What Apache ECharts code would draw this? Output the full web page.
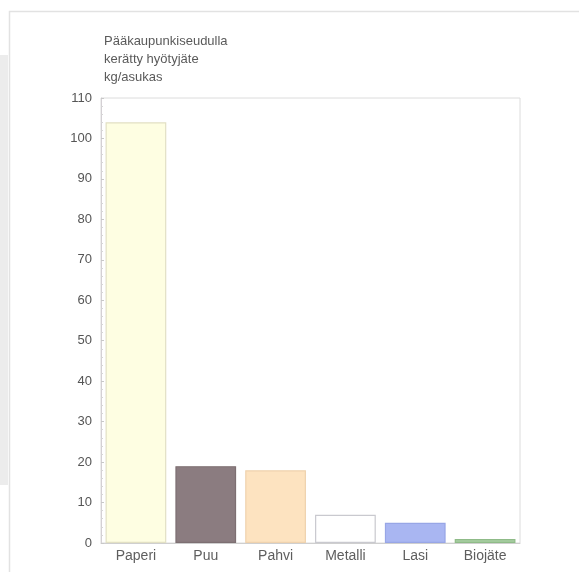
<!DOCTYPE html>
<html>
<head>
<meta charset="utf-8">
<script src="https://cdn.jsdelivr.net/npm/echarts@6/dist/echarts.min.js"></script>
<style>
  html, body { margin: 0; padding: 0; background: #ffffff; }
  #chart { width: 579px; height: 572px; }
</style>
</head>
<body>
<div id="chart"></div>
<script>
// Collected recyclable waste per resident in the capital region (kg/asukas)
const categories = ['Paperi', 'Puu', 'Pahvi', 'Metalli', 'Lasi', 'Biojäte'];
const values = [104, 19, 18, 7, 5, 1];
const fillColors = ['#fefee2', '#8b7c80', '#fde3c0', '#ffffff', '#a9b6f2', '#a9cfa3'];
const borderColors = ['#e2e0c4', '#7d6f72', '#efd2ae', '#c9c9cf', '#98a6e6', '#8fbb88'];
const yTicks = { min: 0, max: 110, interval: 10 };
const titleLines = ['Pääkaupunkiseudulla', 'kerätty hyötyjäte', 'kg/asukas'];

const chart = echarts.init(document.getElementById('chart'), null, { renderer: 'canvas' });

chart.setOption({
  backgroundColor: '#ffffff',
  animation: false,
  textStyle: { fontFamily: 'Liberation Sans, Arial, sans-serif' },
  graphic: [
    {
      type: 'rect',
      shape: { x: 9.5, y: 11.5, width: 580, height: 570 },
      style: { fill: null, stroke: '#e2e2e2', lineWidth: 1.5 },
      silent: true
    },
    {
      type: 'rect',
      shape: { x: 0, y: 55, width: 8, height: 430 },
      style: { fill: '#ececec' },
      silent: true
    }
  ],
  title: {
    text: titleLines.join('\n'),
    left: 104,
    top: 32,
    padding: 0,
    textStyle: {
      fontSize: 13,
      fontWeight: 'normal',
      color: '#5a5a5a',
      lineHeight: 18
    }
  },
  grid: {
    left: 101,
    right: 59,
    top: 98,
    bottom: 29,
    show: true,
    borderColor: '#dcdcdc',
    borderWidth: 1,
    backgroundColor: 'transparent'
  },
  xAxis: {
    type: 'category',
    data: categories,
    axisLine: { lineStyle: { color: '#cfcfcf' } },
    axisTick: { show: true, inside: true, alignWithLabel: true, length: 4, lineStyle: { color: '#c0c0c0' } },
    axisLabel: { color: '#5e5e5e', fontSize: 14, margin: 6 }
  },
  yAxis: {
    type: 'value',
    min: yTicks.min,
    max: yTicks.max,
    interval: yTicks.interval,
    axisLine: { show: true, lineStyle: { color: '#d4d0d4' } },
    axisTick: { show: true, inside: true, length: 3, lineStyle: { color: '#c8c8c8' } },
    minorTick: { show: true, splitNumber: 5, length: 2, lineStyle: { color: '#d6d6d6' } },
    splitLine: { show: false },
    axisLabel: { color: '#555555', fontSize: 13, margin: 9 }
  },
  series: [
    {
      type: 'bar',
      barCategoryGap: '13%',
      data: values.map((v, i) => ({
        value: v,
        itemStyle: {
          color: fillColors[i],
          borderColor: borderColors[i],
          borderWidth: 1.2
        }
      }))
    }
  ]
});
</script>
</body>
</html>
